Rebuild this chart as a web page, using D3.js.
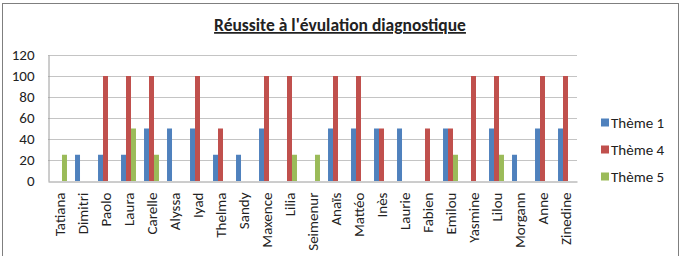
<!doctype html>
<html lang="fr">
  <head>
    <meta charset="utf-8">
    <title>Réussite à l'évulation diagnostique</title>
    <script src="https://d3js.org/d3.v7.min.js"></script>
    <style>
      body { margin: 0; background: #fff; }
      svg text { font-family: Carlito, Calibri, "Open Sans", sans-serif; fill: #222; }
    </style>
  </head>
  <body>
    <div class="visual"></div>
    <script>
      // data
      const eleves = ['Tatiana', 'Dimitri', 'Paolo', 'Laura', 'Carelle', 'Alyssa', 'Iyad', 'Thelma',
        'Sandy', 'Maxence', 'Lilia', 'Seimenur', 'Anaïs', 'Mattéo', 'Inès', 'Laurie', 'Fabien',
        'Emilou', 'Yasmine', 'Lilou', 'Morgann', 'Anne', 'Zinedine'];
      const series = ['Thème 1', 'Thème 4', 'Thème 5'];
      const theme1 = [0, 25, 25, 25, 50, 50, 50, 25, 25, 50, 0, 0, 50, 50, 50, 50, 0, 50, 0, 50, 25, 50, 50];
      const theme4 = [0, 0, 100, 100, 100, 0, 100, 50, 0, 100, 100, 0, 100, 100, 50, 0, 50, 50, 100, 100, 0, 100, 100];
      const theme5 = [25, 0, 0, 50, 25, 0, 0, 0, 0, 0, 25, 25, 0, 0, 0, 0, 0, 25, 0, 25, 0, 0, 0];
      const yTicks = [0, 20, 40, 60, 80, 100, 120];
      const colors = ['#4f81bd', '#c0504d', '#9bbb59'];

      const w = 688, h = 256;
      const plot = { left: 48, right: 577, top: 55, bottom: 181 };

      const svg = d3.select('.visual').append('svg')
        .attr('width', w).attr('height', h);

      // outer frame
      svg.append('rect')
        .attr('x', 2.5).attr('y', 3.5).attr('width', 676).attr('height', 260)
        .attr('fill', '#fff').attr('stroke', '#7f7f7f');

      // title
      svg.append('text')
        .attr('x', 340).attr('y', 31)
        .attr('text-anchor', 'middle')
        .attr('font-size', '17.5px').attr('font-weight', 'bold')
        .attr('text-decoration', 'underline')
        .text("Réussite à l'évulation diagnostique");

      const x0 = d3.scaleBand().domain(eleves).range([plot.left, plot.right]).paddingInner(0.35).paddingOuter(0.175);
      const x1 = d3.scaleBand().domain(series).range([0, x0.bandwidth()]);
      const y = d3.scaleLinear().domain([0, 120]).range([plot.bottom, plot.top]);

      // gridlines
      svg.append('g').selectAll('line').data(yTicks.filter(d => d > 0)).enter().append('line')
        .attr('x1', plot.left).attr('x2', plot.right)
        .attr('y1', d => Math.round(y(d)) + 0.5).attr('y2', d => Math.round(y(d)) + 0.5)
        .attr('stroke', '#c4c4c4');

      // bars
      const rows = eleves.map((e, i) => ({ name: e, vals: [theme1[i], theme4[i], theme5[i]] }));
      const groups = svg.append('g').selectAll('g').data(rows).enter().append('g')
        .attr('transform', d => 'translate(' + x0(d.name) + ',0)');
      groups.selectAll('rect').data(d => d.vals.map((v, k) => ({ s: series[k], v: v, k: k })))
        .enter().append('rect')
        .attr('x', d => x1(d.s))
        .attr('width', x1.bandwidth())
        .attr('y', d => y(d.v))
        .attr('height', d => y(0) - y(d.v))
        .attr('fill', d => colors[d.k]);

      // y axis
      const yAxis = d3.axisLeft(y).tickValues(yTicks).tickSize(0).tickPadding(14);
      const gy = svg.append('g').attr('transform', 'translate(' + (plot.left + 0.5) + ',0)').call(yAxis);
      gy.select('.domain').attr('stroke', '#9a9a9a');
      gy.selectAll('text').attr('font-size', '15px').attr('fill', '#222');

      // x axis
      const xAxis = d3.axisBottom(x0).tickSize(0).tickPadding(0);
      const gx = svg.append('g').attr('transform', 'translate(0,' + (plot.bottom + 0.5) + ')').call(xAxis);
      gx.select('.domain').attr('stroke', '#9a9a9a');
      gx.selectAll('text')
        .attr('font-size', '15px').attr('fill', '#222')
        .attr('text-anchor', 'end')
        .attr('dy', '0.35em')
        .attr('transform', 'translate(0,11) rotate(-90)')
        .attr('x', 0).attr('y', 0);

      // legend
      const legend = svg.append('g').selectAll('g').data(series).enter().append('g')
        .attr('transform', (d, i) => 'translate(601,' + (122.5 + i * 27) + ')');
      legend.append('rect').attr('x', 0).attr('y', -4).attr('width', 8).attr('height', 8)
        .attr('fill', (d, i) => colors[i]);
      legend.append('text').attr('x', 10).attr('y', 0).attr('dy', '0.35em')
        .attr('font-size', '15px').text(d => d);
    </script>
  </body>
</html>
